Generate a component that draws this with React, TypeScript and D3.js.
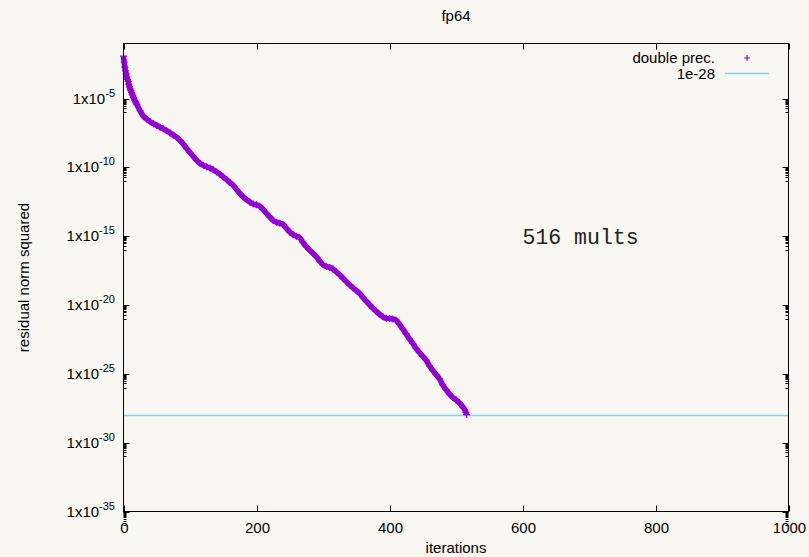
import React, { useEffect, useRef } from 'react';
import * as d3 from 'd3';

// iteration number of each plotted residual
const iterations = [
  0, 1, 2, 3, 4, 5, 6, 7, 8, 9, 10, 11, 12, 13, 14, 15, 16, 17, 18, 19, 20,
  25, 30, 35, 40, 45, 50, 55, 60, 65, 70, 75, 80, 85, 90, 95, 100,
  105, 110, 115, 120, 125, 130, 135, 140, 145, 150, 155, 160, 165, 170, 175, 180,
  185, 190, 195, 200, 205, 210, 215, 220, 225, 230, 235, 240, 245, 250, 255, 260,
  265, 270, 275, 280, 285, 290, 295, 300, 305, 310, 315, 320, 325, 330, 335, 340,
  345, 350, 355, 360, 365, 370, 375, 380, 385, 390, 395, 400, 405, 410, 415, 420,
  425, 430, 435, 440, 445, 450, 455, 460, 465, 470, 475, 480, 485, 490, 495, 500,
  505, 510, 515, 516
];

// residual norm squared (double precision)
const residual = [
  1.2e-2, 4.4e-3, 1.9e-3, 1.05e-3, 6.3e-4, 3.8e-4, 2.5e-4, 1.8e-4, 1.1e-4, 7.1e-5, 5.0e-5,
  3.8e-5, 2.8e-5, 2.1e-5, 1.6e-5, 1.2e-5, 9.3e-6, 7.2e-6, 5.8e-6, 4.6e-6, 3.6e-6,
  1.3e-6, 5.2e-7, 3.2e-7, 2.1e-7, 1.5e-7, 1.1e-7, 8.3e-8, 6.3e-8, 4.5e-8, 3.2e-8, 2.2e-8, 1.5e-8, 9.1e-9, 4.8e-9, 2.3e-9, 1.2e-9,
  6.3e-10, 3.2e-10, 1.9e-10, 1.4e-10, 1.1e-10, 8.9e-11, 6.6e-11, 4.6e-11, 3.2e-11, 2.0e-11, 1.3e-11, 7.9e-12, 5.0e-12, 2.5e-12, 1.3e-12, 7.1e-13,
  4.5e-13, 3.0e-13, 2.2e-13, 1.9e-13, 1.5e-13, 8.9e-14, 4.5e-14, 2.5e-14, 1.4e-14, 1.05e-14, 8.9e-15, 7.1e-15, 3.8e-15, 2.0e-15, 1.3e-15, 1.0e-15,
  7.6e-16, 3.5e-16, 1.7e-16, 9.5e-17, 5.6e-17, 3.2e-17, 1.6e-17, 8.3e-18, 6.3e-18, 5.4e-18, 4.2e-18, 2.5e-18, 1.6e-18, 8.9e-19, 5.0e-19, 3.0e-19,
  1.8e-19, 1.1e-19, 7.1e-20, 3.5e-20, 1.9e-20, 1.05e-20, 6.0e-21, 3.5e-21, 2.1e-21, 1.4e-21, 1.1e-21, 1.05e-21, 9.5e-22, 7.9e-22, 4.0e-22, 1.8e-22,
  7.9e-23, 3.5e-23, 1.6e-23, 7.1e-24, 3.5e-24, 1.9e-24, 1.0e-24, 3.8e-25, 1.8e-25, 8.9e-26, 4.5e-26, 1.6e-26, 7.1e-27, 3.5e-27, 1.9e-27, 1.3e-27,
  7.9e-28, 4.0e-28, 1.6e-28, 1.1e-28
];

const xTicks = [0, 200, 400, 600, 800, 1000];
const yTickExponents = [-5, -10, -15, -20, -25, -30, -35];
const threshold = 1e-28;
const seriesLabels = ['double prec.', '1e-28'];
const annotation = { x: 600, y: 1e-15, text: '516 mults' };

const W = 809;
const H = 557;
const PURPLE = '#9400d3';
const SKY = '#87ceeb';
const SANS = '"Liberation Sans", Arial, sans-serif';

interface Pt {
  it: number;
  v: number;
}

const App: React.FC = () => {
  const svgRef = useRef<SVGSVGElement>(null);

  useEffect(() => {
    if (!svgRef.current) return;
    const svg = d3.select(svgRef.current);
    svg.selectAll('*').remove();

    const left = 123.5, right = 788.5, top = 43.5, bottom = 511.5;

    const x = d3.scaleLinear().domain([0, 1000]).range([left, right]);
    const y = d3.scaleLog().domain([1e-35, 1e-1]).range([bottom, top]);

    svg.append('rect').attr('width', W).attr('height', H).attr('fill', '#f8f7f1');

    // threshold line
    const ty = Math.round(y(threshold)) + 0.5;
    svg.append('line')
      .attr('x1', x(0)).attr('x2', x(1000))
      .attr('y1', ty).attr('y2', ty)
      .attr('stroke', SKY).attr('stroke-width', 1.3);

    // ticks (mirrored on all four sides)
    const ticks = svg.append('g').attr('stroke', '#000').attr('stroke-width', 1);
    xTicks.forEach(t => {
      const px = Math.round(x(t)) + 0.5;
      ticks.append('line').attr('x1', px).attr('x2', px).attr('y1', bottom).attr('y2', bottom - 6);
      ticks.append('line').attr('x1', px).attr('x2', px).attr('y1', top).attr('y2', top + 6);
    });
    yTickExponents.forEach(e => {
      const py = Math.round(y(Math.pow(10, e))) + 0.5;
      ticks.append('line').attr('x1', left).attr('x2', left + 6).attr('y1', py).attr('y2', py);
      ticks.append('line').attr('x1', right).attr('x2', right - 6).attr('y1', py).attr('y2', py);
      d3.range(1, 10).forEach(k => {
        const my = Math.round(y(k * Math.pow(10, e - 1))) + 0.5;
        ticks.append('line').attr('x1', left).attr('x2', left + 3).attr('y1', my).attr('y2', my);
        ticks.append('line').attr('x1', right).attr('x2', right - 3).attr('y1', my).attr('y2', my);
      });
    });

    const pts: Pt[] = iterations.map((it, i) => ({ it, v: residual[i] }));

    // dense markers merge into a band in the original; trace it with a thick stroke
    const band = d3.line<Pt>()
      .x(d => x(d.it))
      .y(d => y(d.v))
      .curve(d3.curveMonotoneX);
    svg.append('path')
      .datum(pts)
      .attr('d', band)
      .attr('fill', 'none')
      .attr('stroke', PURPLE)
      .attr('stroke-width', 5.5)
      .attr('stroke-linejoin', 'round');

    const cross = 'M-3.5,0h7M0,-3.5v7';
    svg.append('g')
      .selectAll('path')
      .data(pts)
      .enter()
      .append('path')
      .attr('transform', d => `translate(${x(d.it)},${y(d.v)})`)
      .attr('d', cross)
      .attr('stroke', PURPLE)
      .attr('stroke-width', 1.2)
      .attr('fill', 'none');

    // border
    svg.append('rect')
      .attr('x', left).attr('y', top)
      .attr('width', right - left).attr('height', bottom - top)
      .attr('fill', 'none').attr('stroke', '#000').attr('stroke-width', 1);

    const txt = svg.append('g').attr('font-family', SANS).attr('font-size', 15).attr('fill', '#000');

    xTicks.forEach(t => {
      txt.append('text').attr('x', x(t) + 1).attr('y', 532.5)
        .attr('text-anchor', 'middle').text(t);
    });

    yTickExponents.forEach(e => {
      const t = txt.append('text')
        .attr('x', 115).attr('y', y(Math.pow(10, e)) + 5)
        .attr('text-anchor', 'end');
      t.append('tspan').text('1x10');
      t.append('tspan').attr('dy', -7).attr('font-size', 11).text(String(e));
    });

    txt.append('text').attr('x', (left + right) / 2).attr('y', 21)
      .attr('text-anchor', 'middle').text('fp64');
    txt.append('text').attr('x', (left + right) / 2).attr('y', 553)
      .attr('text-anchor', 'middle').text('iterations');
    txt.append('text')
      .attr('transform', `translate(29,${(top + bottom) / 2}) rotate(-90)`)
      .attr('text-anchor', 'middle').text('residual norm squared');

    svg.append('text')
      .attr('x', x(annotation.x)).attr('y', y(annotation.y) + 7.5)
      .attr('font-family', '"Liberation Mono", "Courier New", monospace')
      .attr('font-size', 21.5).attr('fill', '#222')
      .text(annotation.text);

    // legend
    const legendX = 715;
    txt.append('text').attr('x', legendX).attr('y', 63).attr('text-anchor', 'end').text(seriesLabels[0]);
    txt.append('text').attr('x', legendX).attr('y', 79).attr('text-anchor', 'end').text(seriesLabels[1]);
    svg.append('path').attr('transform', 'translate(747,58)').attr('d', 'M-3,0h6M0,-3v6')
      .attr('stroke', PURPLE).attr('stroke-width', 1.2);
    svg.append('line').attr('x1', 725).attr('x2', 769).attr('y1', 73.5).attr('y2', 73.5)
      .attr('stroke', SKY).attr('stroke-width', 1.3);
  }, []);

  return (
    <svg ref={svgRef} width={W} height={H}
      style={{ position: 'absolute', left: 0, top: 0, display: 'block' }} />
  );
};

export default App;
